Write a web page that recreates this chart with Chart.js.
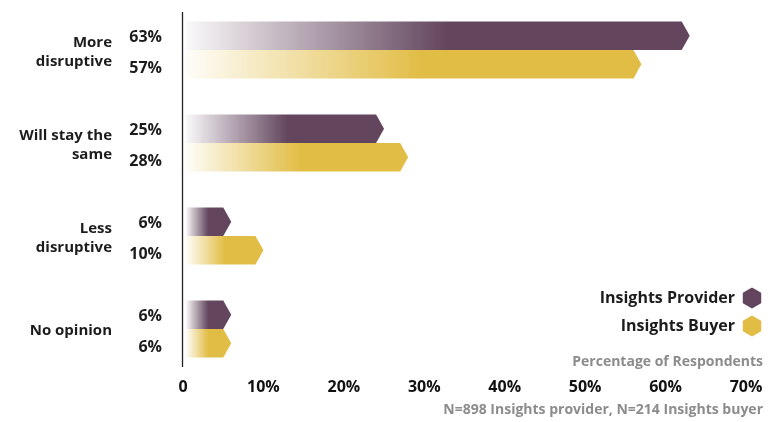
<!DOCTYPE html>
<html>
<head>
<meta charset="utf-8">
<script src="https://cdn.jsdelivr.net/npm/chart.js@4.4.1/dist/chart.umd.min.js"></script>
<style>
  html, body { margin: 0; padding: 0; background: #ffffff; }
  #wrap { width: 771px; height: 422px; position: relative; }
</style>
</head>
<body>
<div id="wrap"><canvas id="chart"></canvas></div>
<script>
// Survey answers: how disruptive will the next period be?
const categories = [["More", "disruptive"], ["Will stay the", "same"], ["Less", "disruptive"], ["No opinion"]];
const providerValues = [63, 25, 6, 6];
const buyerValues = [57, 28, 10, 6];
const xTickLabels = ["0", "10%", "20%", "30%", "40%", "50%", "60%", "70%"];
const seriesNames = ["Insights Provider", "Insights Buyer"];
const seriesColors = ["#63465e", "#e2bd46"];
const axisTitle = "Percentage of Respondents";
const sampleNote = "N=898 Insights provider, N=214 Insights buyer";

const FONT = "'Open Sans', Lato, sans-serif";
const INK = "#1c1c1c";
const GREY = "#8c8c8c";

function rgba(hex, a) {
  const n = parseInt(hex.slice(1), 16);
  return `rgba(${(n >> 16) & 255},${(n >> 8) & 255},${n & 255},${a})`;
}

// Arrow-tipped bars with a fade-in from the baseline, plus value labels
const arrowBars = {
  id: "arrowBars",
  afterDatasetsDraw(chart) {
    const ctx = chart.ctx;
    const area = chart.chartArea;
    const x0 = chart.scales.x.getPixelForValue(0);

    // vertical baseline
    ctx.save();
    ctx.strokeStyle = "#222";
    ctx.lineWidth = 1.3;
    ctx.beginPath();
    ctx.moveTo(x0 - 0.5, area.top + 8.5);
    ctx.lineTo(x0 - 0.5, area.bottom - 8.5);
    ctx.stroke();
    ctx.restore();

    chart.data.datasets.forEach((ds, di) => {
      const meta = chart.getDatasetMeta(di);
      const color = seriesColors[di];
      meta.data.forEach((el, i) => {
        const p = el.getProps(["x", "y", "base", "height"], true);
        const h = p.height;
        const tip = 8;
        const left = p.base + 3;
        const len = p.x - p.base;
        const g = ctx.createLinearGradient(left, 0, p.base + len * 0.52, 0);
        g.addColorStop(0, rgba(color, 0.03));
        g.addColorStop(1, rgba(color, 1));
        ctx.save();
        ctx.fillStyle = g;
        ctx.beginPath();
        ctx.moveTo(left, p.y - h / 2);
        ctx.lineTo(p.x - tip, p.y - h / 2);
        ctx.lineTo(p.x, p.y);
        ctx.lineTo(p.x - tip, p.y + h / 2);
        ctx.lineTo(left, p.y + h / 2);
        ctx.closePath();
        ctx.fill();

        ctx.fillStyle = INK;
        ctx.font = `700 16px ${FONT}`;
        ctx.textAlign = "right";
        ctx.textBaseline = "middle";
        ctx.fillText(ds.data[i] + "%", 162, p.y + (di === 0 ? 2 : 4));
        ctx.restore();
      });
    });
  }
};

// Legend with hexagon markers and the axis notes, bottom right
const notes = {
  id: "notes",
  afterDraw(chart) {
    const ctx = chart.ctx;
    ctx.save();
    const hex = (cx, cy, r, color) => {
      ctx.fillStyle = color;
      ctx.beginPath();
      for (let k = 0; k < 6; k++) {
        const a = Math.PI / 2 + k * Math.PI / 3;
        const px = cx + r * Math.cos(a), py = cy - r * Math.sin(a);
        if (k === 0) ctx.moveTo(px, py); else ctx.lineTo(px, py);
      }
      ctx.closePath();
      ctx.lineJoin = "round";
      ctx.strokeStyle = color;
      ctx.lineWidth = 2;
      ctx.fill();
      ctx.stroke();
    };
    ctx.textAlign = "right";
    ctx.textBaseline = "middle";
    ctx.font = `700 16px ${FONT}`;
    seriesNames.forEach((name, i) => {
      const y = 298 + i * 28;
      ctx.fillStyle = INK;
      ctx.fillText(name, 735, y);
      hex(752, y, 9.5, seriesColors[i]);
    });
    ctx.font = `700 14px ${FONT}`;
    ctx.fillStyle = GREY;
    ctx.fillText(axisTitle, 763, 362);
    ctx.fillText(sampleNote, 763, 410);
    ctx.restore();
  }
};

new Chart(document.getElementById("chart"), {
  type: "bar",
  data: {
    labels: categories,
    datasets: [
      { label: seriesNames[0], data: providerValues, backgroundColor: "rgba(0,0,0,0)" },
      { label: seriesNames[1], data: buyerValues, backgroundColor: "rgba(0,0,0,0)" }
    ]
  },
  options: {
    indexAxis: "y",
    responsive: true,
    maintainAspectRatio: false,
    animation: false,
    datasets: { bar: { barPercentage: 1, categoryPercentage: 0.613 } },
    layout: { padding: { left: 0, right: 25, top: 3.5, bottom: 0 } },
    plugins: { legend: { display: false }, tooltip: { enabled: false } },
    scales: {
      x: {
        min: 0, max: 70,
        grid: { display: false, drawTicks: false },
        border: { display: false },
        ticks: {
          stepSize: 10,
          padding: 2,
          color: "#111",
          font: { family: FONT, size: 16, weight: "700" },
          callback: (v, i) => xTickLabels[i]
        },
        afterFit: (s) => { s.height = 46.5; s.paddingLeft = 0; s.paddingRight = 0; }
      },
      y: {
        grid: { display: false, drawTicks: false },
        border: { display: false },
        ticks: {
          padding: 71,
          labelOffset: 2,
          color: INK,
          font: { family: FONT, size: 15, weight: "700", lineHeight: 1.25 }
        },
        afterFit: (s) => { s.width = 183; s.paddingTop = 0; s.paddingBottom = 0; }
      }
    }
  },
  plugins: [arrowBars, notes]
});
</script>
</body>
</html>
